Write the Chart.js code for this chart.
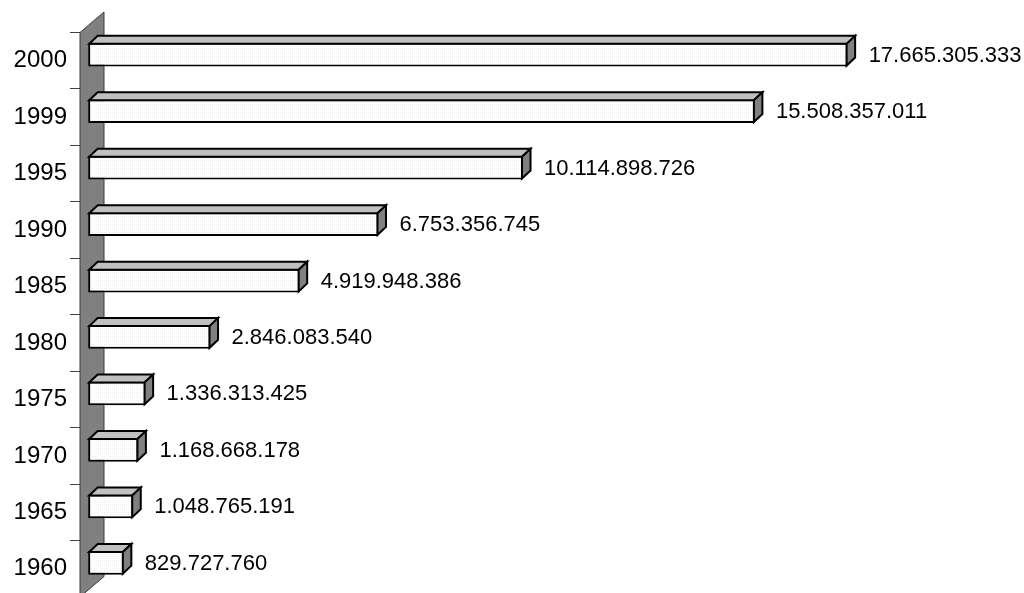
<!DOCTYPE html>
<html>
<head>
<meta charset="utf-8">
<script src="https://cdn.jsdelivr.net/npm/chart.js@4/dist/chart.umd.min.js"></script>
<style>
  html, body { margin: 0; padding: 0; background: #fff; overflow: hidden; }
  canvas { display: block; }
</style>
</head>
<body>
<canvas id="chart" width="1024" height="600"></canvas>
<script>
// Years, listed top to bottom as drawn
const years = ['2000', '1999', '1995', '1990', '1985', '1980', '1975', '1970', '1965', '1960'];
// Value per year
const values = [
  17665305333, 15508357011, 10114898726, 6753356745, 4919948386,
  2846083540, 1336313425, 1168668178, 1048765191, 829727760
];

const FONT = "'Liberation Sans', Arial, Helvetica, sans-serif";

// Thousands separated with dots: 17.665.305.333
function fmt(v) {
  return String(v).replace(/\B(?=(\d{3})+(?!\d))/g, '.');
}

// Fine dotted fill for the bar fronts
function dotPattern() {
  const c = document.createElement('canvas');
  c.width = 2; c.height = 2;
  const g = c.getContext('2d');
  g.fillStyle = '#ffffff';
  g.fillRect(0, 0, 2, 2);
  g.fillStyle = '#f0f0f0';
  g.fillRect(0, 0, 1, 1);
  return g.createPattern(c, 'repeat');
}

// 3D look: back wall, bar shift, top and side faces, value labels
const DEPTH_X = 8.5, DEPTH_Y = 8;
const WALL_W = 24, WALL_RISE = 20.5;
const BAR_SHIFT = -6;

const bar3d = {
  id: 'bar3d',
  beforeDatasetsDraw(chart) {
    const { ctx, chartArea: a } = chart;
    ctx.save();
    ctx.beginPath();
    ctx.moveTo(a.left, a.top);
    ctx.lineTo(a.left + WALL_W, a.top - WALL_RISE);
    ctx.lineTo(a.left + WALL_W, a.bottom - WALL_RISE);
    ctx.lineTo(a.left, a.bottom);
    ctx.closePath();
    ctx.fillStyle = '#808080';
    ctx.fill();
    ctx.lineWidth = 1;
    ctx.strokeStyle = '#3a3a3a';
    ctx.stroke();
    ctx.restore();
    ctx.save();
    ctx.translate(0, BAR_SHIFT);
  },
  afterDatasetsDraw(chart) {
    const { ctx } = chart;
    const meta = chart.getDatasetMeta(0);
    ctx.lineWidth = 2;
    ctx.strokeStyle = '#000';
    ctx.lineJoin = 'miter';
    meta.data.forEach((el, i) => {
      const p = el.getProps(['x', 'y', 'base', 'height'], true);
      const l = Math.min(p.base, p.x) + 1;
      const r = Math.max(p.base, p.x) - 1;
      const t = p.y - p.height / 2 + 1;
      const b = p.y + p.height / 2 - 1;
      // top face
      ctx.beginPath();
      ctx.moveTo(l, t);
      ctx.lineTo(l + DEPTH_X, t - DEPTH_Y);
      ctx.lineTo(r + DEPTH_X, t - DEPTH_Y);
      ctx.lineTo(r, t);
      ctx.closePath();
      ctx.fillStyle = '#c0c0c0';
      ctx.fill();
      ctx.stroke();
      // side face
      ctx.beginPath();
      ctx.moveTo(r, t);
      ctx.lineTo(r + DEPTH_X, t - DEPTH_Y);
      ctx.lineTo(r + DEPTH_X, b - DEPTH_Y);
      ctx.lineTo(r, b);
      ctx.closePath();
      ctx.fillStyle = '#808080';
      ctx.fill();
      ctx.stroke();
      // value label
      ctx.fillStyle = '#000';
      ctx.font = '22px ' + FONT;
      ctx.textAlign = 'left';
      ctx.textBaseline = 'middle';
      ctx.fillText(fmt(values[i]), Math.max(p.base, p.x) + 21, p.y + 1);
    });
    ctx.restore();
  }
};

new Chart(document.getElementById('chart'), {
  type: 'bar',
  data: {
    labels: years,
    datasets: [{
      data: values,
      backgroundColor: dotPattern(),
      borderColor: '#000',
      borderWidth: 2,
      borderSkipped: false,
      barPercentage: 0.42,
      categoryPercentage: 1
    }]
  },
  options: {
    indexAxis: 'y',
    responsive: false,
    animation: false,
    events: [],
    layout: { padding: { top: 32.5, bottom: 3, left: 0, right: 76 } },
    plugins: {
      legend: { display: false },
      tooltip: { enabled: false }
    },
    scales: {
      x: {
        display: false,
        min: -190000000,
        max: 20000000000
      },
      y: {
        position: 'left',
        afterFit(scale) {
          scale.width = 80;
          scale.paddingTop = 0;
          scale.paddingBottom = 0;
        },
        border: { display: false },
        grid: {
          offset: true,
          drawOnChartArea: false,
          drawTicks: true,
          tickLength: 10,
          color: '#404040',
          lineWidth: 1
        },
        ticks: {
          color: '#000',
          padding: 3,
          font: { family: FONT, size: 24 }
        }
      }
    }
  },
  plugins: [bar3d]
});
</script>
</body>
</html>
